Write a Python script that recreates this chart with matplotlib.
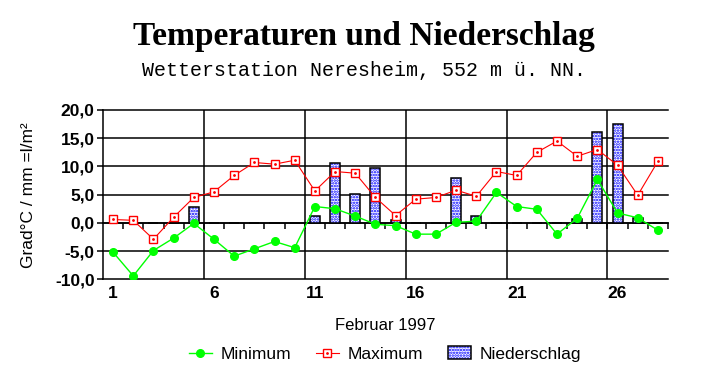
import numpy as np
import matplotlib
matplotlib.use("Agg")
import matplotlib.pyplot as plt
from matplotlib.ticker import FuncFormatter
from matplotlib.lines import Line2D
from matplotlib.patches import Patch

# --- data, February 1997 ---
days = list(range(1, 29))
t_min = [-5.2, -9.4, -4.9, -2.7, -0.1, -2.9, -5.9, -4.6, -3.3, -4.4,
         2.9, 2.5, 1.2, -0.25, -0.5, -2.0, -2.0, 0.1, 0.3, 5.4,
         2.9, 2.4, -2.0, 0.8, 7.7, 1.75, 0.9, -1.3]
t_max = [0.6, 0.45, -2.9, 1.0, 4.5, 5.5, 8.4, 10.7, 10.4, 11.1,
         5.65, 9.1, 8.8, 4.5, 1.3, 4.2, 4.5, 5.8, 4.7, 9.1,
         8.4, 12.5, 14.5, 11.8, 13.0, 10.2, 4.9, 10.9]
rain = [0, 0, 0, 0, 2.75, 0, 0, 0, 0, 0,
        1.2, 10.6, 5.1, 9.7, 0.45, 0, 0, 7.9, 1.2, 0,
        0, 0, 0, 0.6, 16.05, 17.5, 0.8, 0]
day_labels = [1, 6, 11, 16, 21, 26]
y_ticks = [-10, -5, 0, 5, 10, 15, 20]

W, H = 725, 384
fig = plt.figure(figsize=(W / 100, H / 100), dpi=100)
plt.rcParams['font.family'] = ['Liberation Sans', 'DejaVu Sans']
plt.rcParams['hatch.linewidth'] = 1.2

ax = fig.add_axes([103 / W, 1 - 279.3 / H, (668 - 103) / W, (279.3 - 110) / H])
ax.set_xlim(0.5, 28.5)
ax.set_ylim(-10, 20)

# grid
for y in y_ticks:
    ax.axhline(y, color='black', lw=1.1, clip_on=False, zorder=1)
for x in [5.5, 10.5, 15.5, 20.5, 25.5]:
    ax.axvline(x, color='black', lw=1.1, zorder=1)

# precipitation bars: blue dotted fill, black outline
ax.bar(days, rain, width=0.5, facecolor='white', edgecolor='#0000ff',
       hatch='......', linewidth=0, zorder=2)
ax.bar(days, rain, width=0.5, fill=False, edgecolor='black', linewidth=1.1, zorder=3)

# temperatures
ax.plot(days, t_min, color='#00ff00', lw=1, marker='o', ms=5.5, zorder=4)
ax.plot(days, t_max, color='#ff0000', lw=0.8, marker='s', ms=5.5,
        mfc='white', mec='#ff0000', mew=1, zorder=4)
ax.plot(days, t_max, ls='none', marker='.', ms=2, color='#ff0000', zorder=5)

for s in ['top', 'right', 'bottom']:
    ax.spines[s].set_visible(False)
ax.spines['left'].set_linewidth(1.1)

ax.set_yticks(y_ticks)
ax.yaxis.set_major_formatter(FuncFormatter(lambda v, p: f"{v:.1f}".replace('.', ',')))
ax.tick_params(axis='y', length=4, width=1.1, labelsize=12.5, pad=2)
for lab in ax.get_yticklabels():
    lab.set_fontweight('bold')

ax.set_xticks(day_labels)
ax.tick_params(axis='x', length=0, labelsize=12.5, pad=5)
for lab in ax.get_xticklabels():
    lab.set_fontweight('bold')

# zero axis with ticks between the days
zero_ax = ax.secondary_xaxis(1 / 3)
zero_ax.set_xticks(np.arange(1.5, 29, 1))
zero_ax.tick_params(length=4, width=1.1, direction='out', labelbottom=False, labeltop=False)
zero_ax.spines['bottom'].set_linewidth(1.1)

ax.set_ylabel('Grad°C / mm =l/m²', fontsize=12.5, labelpad=14)
ax.set_xlabel('Februar 1997', fontsize=12, labelpad=12)

fig.text(0.502, 1 - 37 / H, 'Temperaturen und Niederschlag', ha='center', va='center',
         family='Liberation Serif', fontweight='bold', fontsize=24)
fig.text(0.502, 1 - 71 / H, 'Wetterstation Neresheim, 552 m ü. NN.', ha='center',
         va='center', family='Liberation Mono', fontsize=14.4)

h_min = Line2D([], [], color='#00ff00', lw=1, marker='o', ms=5.5)
h_max = (Line2D([], [], color='#ff0000', lw=0.8, marker='s', ms=5.5, mfc='white', mec='#ff0000'),
         Line2D([], [], ls='none', marker='.', ms=2, color='#ff0000'))
h_rain = (Patch(facecolor='white', edgecolor='#0000ff', hatch='......', lw=0),
          Patch(fill=False, edgecolor='black', lw=1.1))
fig.legend([h_min, h_max, h_rain], ['Minimum', 'Maximum', 'Niederschlag'],
           loc='center', bbox_to_anchor=(385 / W, 1 - 354 / H), ncol=3, frameon=False,
           fontsize=12.5, handlelength=1.3, columnspacing=1.45, handletextpad=0.5)

fig.savefig('out.png', dpi=100)
